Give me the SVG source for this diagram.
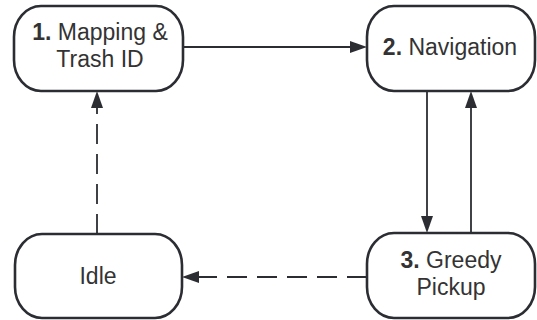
<svg xmlns="http://www.w3.org/2000/svg" width="537" height="320" viewBox="0 0 537 320">
<style>
.node{fill:#ffffff;stroke:#2b2d33;stroke-width:2.6}
.lbl{font-family:"Liberation Sans",Arial,sans-serif;font-size:23px;fill:#333333;text-anchor:middle}
.b{font-weight:bold}
.conn{fill:none;stroke:#2b2d33;stroke-width:1.8}
.dash{stroke-dasharray:20 10}
</style>
<defs>
<marker id="arr" markerUnits="userSpaceOnUse" markerWidth="18" markerHeight="12" refX="1" refY="6" orient="auto">
<path d="M0,0 L17,6 L0,12 z" fill="#2b2d33"/>
</marker>
</defs>
<rect width="537" height="320" fill="#ffffff"/>
<g id="connectors">
<line class="conn" x1="183" y1="47" x2="351" y2="47" marker-end="url(#arr)"/>
<line class="conn" x1="427" y1="91" x2="427" y2="217" marker-end="url(#arr)"/>
<line class="conn" x1="471" y1="233" x2="471" y2="107" marker-end="url(#arr)"/>
<line class="conn dash" x1="97" y1="234" x2="97" y2="107" marker-end="url(#arr)"/>
<line class="conn dash" x1="367" y1="277" x2="198" y2="277" marker-end="url(#arr)"/>
</g>
<g id="node1">
<rect class="node" x="14" y="6" width="169" height="85" rx="27" ry="31"/>
<text class="lbl" x="100" y="40"><tspan class="b">1.</tspan> Mapping &amp;</text>
<text class="lbl" x="100" y="67">Trash ID</text>
</g>
<g id="node2">
<rect class="node" x="367" y="6" width="168" height="85" rx="27" ry="31"/>
<text class="lbl" x="450" y="55"><tspan class="b">2.</tspan> Navigation</text>
</g>
<g id="node3">
<rect class="node" x="367" y="233" width="168" height="85" rx="27" ry="31"/>
<text class="lbl" x="451" y="268"><tspan class="b">3.</tspan> Greedy</text>
<text class="lbl" x="451" y="295">Pickup</text>
</g>
<g id="idle">
<rect class="node" x="15" y="234" width="167" height="84" rx="27" ry="31"/>
<text class="lbl" x="98" y="284">Idle</text>
</g>
</svg>
